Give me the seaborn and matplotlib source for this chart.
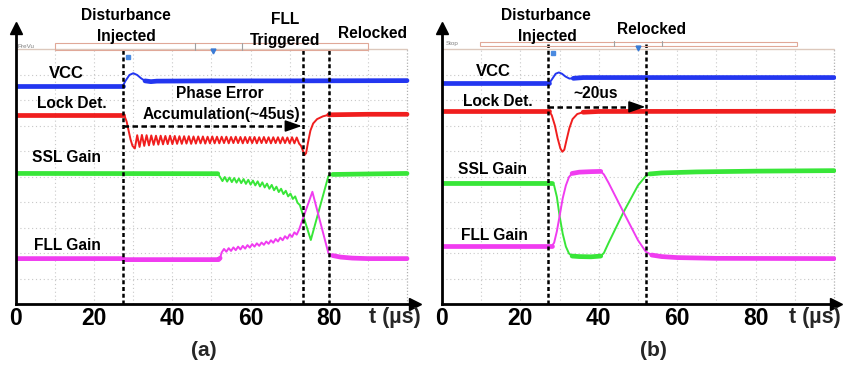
import numpy as np
import pandas as pd
import matplotlib
matplotlib.use("Agg")
import matplotlib.pyplot as plt
from matplotlib.lines import Line2D
from matplotlib.patches import Rectangle
import seaborn as sns

# ---------------- data (time in us, level in scope divisions) ----------------
tick_vals = [0, 20, 40, 60, 80]
tick_labels = ["0", "20", "40", "60", "80"]
trace_names = ["VCC", "Lock Det.", "SSL Gain", "FLL Gain"]

# panel (a)
vcc_a_t = [0, 27.3, 28.0, 29.0, 30.0, 31.0, 32.0, 33.0, 34.5, 36.0, 50.0, 70.0, 100.0]
vcc_a_y = [8.55, 8.55, 8.75, 8.98, 9.05, 8.98, 8.85, 8.75, 8.72, 8.74, 8.75, 8.75, 8.76]

lock_a_t = [0, 27.3, 27.8, 28.3, 28.8, 29.3, 29.8,
            30.4, 31.0, 31.6, 32.2, 32.8, 33.4, 34.0, 34.6, 35.2, 35.8,
            36.4, 37.0, 37.6, 38.2, 38.8, 39.4, 40.0, 40.6, 41.2, 41.8,
            42.4, 43.0, 43.6, 44.2, 44.8, 45.4, 46.0, 46.6, 47.2, 47.8,
            48.4, 49.0, 49.6, 50.2, 50.8, 51.4, 52.0, 52.6, 53.2, 53.8,
            54.4, 55.0, 55.6, 56.2, 56.8, 57.4, 58.0, 58.6, 59.2, 59.8,
            60.4, 61.0, 61.6, 62.2, 62.8, 63.4, 64.0, 64.6, 65.2, 65.8,
            66.4, 67.0, 67.6, 68.2, 68.8, 69.4, 70.0, 70.6, 71.2, 71.8,
            72.4,
            72.9, 73.4, 73.8, 74.2, 74.7, 75.3, 76.0, 77.0, 78.5, 80.0, 90.0, 100.0]
lock_a_y = [7.41, 7.41, 7.36, 7.15, 6.80, 6.45, 6.20,
            6.10, 6.62, 6.16, 6.63, 6.20, 6.62, 6.22, 6.61, 6.24, 6.60,
            6.25, 6.60, 6.26, 6.59, 6.27, 6.60, 6.27, 6.59, 6.28, 6.58,
            6.28, 6.58, 6.29, 6.58, 6.28, 6.57, 6.29, 6.57, 6.30, 6.57,
            6.29, 6.56, 6.30, 6.57, 6.30, 6.56, 6.30, 6.56, 6.31, 6.56,
            6.30, 6.55, 6.31, 6.56, 6.31, 6.55, 6.30, 6.55, 6.31, 6.55,
            6.31, 6.55, 6.30, 6.54, 6.31, 6.55, 6.31, 6.54, 6.30, 6.54,
            6.31, 6.54, 6.30, 6.54, 6.31, 6.53, 6.30, 6.54, 6.30, 6.53,
            6.29,
            6.20, 6.00, 5.84, 5.92, 6.35, 6.80, 7.08, 7.25, 7.36, 7.42, 7.44, 7.44]

ssl_a_t = [0, 51.6,
           52.2, 52.8, 53.4, 54.0, 54.6, 55.2, 55.8, 56.4, 57.0, 57.6,
           58.2, 58.8, 59.4, 60.0, 60.6, 61.2, 61.8, 62.4, 63.0, 63.6,
           64.2, 64.8, 65.4, 66.0, 66.6, 67.2, 67.8, 68.4, 69.0, 69.6,
           70.2, 70.8, 71.4, 72.0, 72.6,
           75.4, 79.9, 81.0, 90.0, 100.0]
ssl_a_y = [5.12, 5.11,
           4.98, 4.82, 4.98, 4.80, 4.96, 4.78, 4.94, 4.76, 4.92, 4.74,
           4.90, 4.71, 4.87, 4.68, 4.84, 4.65, 4.81, 4.61, 4.77, 4.57,
           4.72, 4.52, 4.67, 4.46, 4.60, 4.39, 4.52, 4.31, 4.44, 4.22,
           4.33, 4.12, 4.22, 3.97, 3.88,
           2.51, 5.02, 5.08, 5.10, 5.12]

fll_a_t = [0, 27.0, 28.0, 51.8, 52.2,
           52.6, 53.2, 53.8, 54.4, 55.0, 55.6, 56.2, 56.8, 57.4, 58.0,
           58.6, 59.2, 59.8, 60.4, 61.0, 61.6, 62.2, 62.8, 63.4, 64.0,
           64.6, 65.2, 65.8, 66.4, 67.0, 67.6, 68.2, 68.8, 69.4, 70.0,
           70.6, 71.2, 71.8, 72.4,
           75.8, 79.9, 81.0, 83.0, 86.0, 90.0, 100.0]
fll_a_y = [1.78, 1.78, 1.74, 1.74, 1.80,
           2.02, 2.16, 2.05, 2.19, 2.08, 2.22, 2.11, 2.25, 2.14, 2.28,
           2.17, 2.31, 2.21, 2.35, 2.25, 2.38, 2.28, 2.41, 2.32, 2.45,
           2.36, 2.50, 2.40, 2.55, 2.45, 2.60, 2.50, 2.66, 2.56, 2.73,
           2.63, 2.81, 2.72, 2.92,
           4.40, 1.99, 1.90, 1.84, 1.80, 1.78, 1.78]

# panel (b)
vcc_b_t = [0, 27.3, 28.0, 29.0, 29.8, 30.6, 31.5, 32.5, 33.5, 36.0, 50.0, 70.0, 100.0]
vcc_b_y = [8.65, 8.65, 8.80, 9.03, 9.08, 9.03, 8.92, 8.84, 8.85, 8.88, 8.88, 8.88, 8.88]

lock_b_t = [0, 27.4, 28.0, 28.8, 29.5, 30.2, 30.7, 31.2, 31.8, 32.5, 33.3, 34.5, 36.0, 40.0, 100.0]
lock_b_y = [7.55, 7.55, 7.40, 7.00, 6.50, 6.10, 5.97, 6.05, 6.45, 6.90, 7.25, 7.45, 7.52, 7.55, 7.56]

ssl_b_t = [0, 28.0, 28.6, 29.3, 30.0, 30.8, 31.6, 32.4, 33.2, 35.0, 38.0, 40.5, 41.3, 42.5,
           46.3, 50.0, 52.0, 53.0, 56.0, 65.0, 80.0, 100.0]
ssl_b_y = [4.76, 4.76, 4.65, 4.20, 3.45, 2.75, 2.25, 1.98, 1.88, 1.86, 1.85, 1.88, 2.00, 2.40,
           3.60, 4.65, 5.02, 5.10, 5.14, 5.18, 5.21, 5.23]

fll_b_t = [0, 28.0, 28.6, 29.3, 30.0, 30.8, 31.6, 32.4, 33.2, 35.0, 38.0, 40.5, 41.3, 42.5,
           46.3, 50.0, 52.0, 53.5, 56.0, 60.0, 70.0, 100.0]
fll_b_y = [2.27, 2.27, 2.40, 2.85, 3.45, 4.15, 4.65, 4.98, 5.12, 5.17, 5.19, 5.20, 5.08, 4.75,
           3.60, 2.50, 2.05, 1.92, 1.86, 1.82, 1.79, 1.78]

events_a = [27.4, 73.3, 80.1]
events_b = [27.0, 52.0]
arrow_a = [27.4, 73.1, 6.98]
arrow_b = [27.0, 51.9, 7.73]

# ---------------- styling ----------------
sns.set_style("white")
plt.rcParams['font.family'] = ['Liberation Sans', 'DejaVu Sans']
plt.rcParams['font.weight'] = 'bold'

colors = {"VCC": "#2336f0", "Lock Det.": "#f01e1e", "SSL Gain": "#38e638", "FLL Gain": "#f03cf0"}

W, H = 844, 368
fig = plt.figure(figsize=(W / 100, H / 100), dpi=100)
fig.patch.set_facecolor("white")


def fx(x):
    return x / W


def fy(y):
    return 1 - y / H


PX_DIV = 25.5
AX_Y0 = 304
YTOP = (AX_Y0 - 28) / PX_DIV


def make_axes(x0, ppu, xmax):
    ax = fig.add_axes([fx(x0), fy(AX_Y0), xmax * ppu / W, (AX_Y0 - 28) / H])
    ax.set_xlim(0, xmax)
    ax.set_ylim(0, YTOP)
    ax.set_facecolor("none")
    for s in ["top", "right"]:
        ax.spines[s].set_visible(False)
    for s in ["left", "bottom"]:
        ax.spines[s].set_linewidth(2.0)
        ax.spines[s].set_color("black")
        ax.spines[s].set_zorder(6)
    ax.plot(1, 0, ">k", transform=ax.get_yaxis_transform(), clip_on=False, ms=8, zorder=7)
    ax.plot(0, 1, "^k", transform=ax.get_xaxis_transform(), clip_on=False, ms=8, zorder=7)
    ax.set_xticks(tick_vals)
    ax.set_xticklabels(tick_labels, fontsize=16.5, fontweight="bold")
    ax.tick_params(axis="x", direction="in", length=6.5, width=2, pad=2.5, colors="black")
    ax.set_yticks([])
    ax.set_xlabel("")
    ax.set_ylabel("")
    # scope graticule
    for gx in range(10, 100, 10):
        ax.plot([gx, gx], [0, 10], ls=(0, (1, 2.5)), color="#c8c8c8", lw=0.8, zorder=1)
    ax.plot([100, 100], [0, 10], ls=(0, (1, 1.5)), color="#b0b0b0", lw=0.9, zorder=1)
    for gy in range(1, 10):
        ax.plot([0, 100], [gy, gy], ls=(0, (1, 2.5)), color="#c8c8c8", lw=0.8, zorder=1)
    ax.plot([0, 100], [10, 10], color="#dcc8bc", lw=1.0, zorder=1)
    return ax


def draw_traces(ax, series, thick):
    frames = []
    for name, (t, y) in series.items():
        frames.append(pd.DataFrame({"t": t, "v": y, "trace": name}))
    df = pd.concat(frames, ignore_index=True)
    for name in trace_names:
        d = df[df.trace == name]
        sns.lineplot(data=d, x="t", y="v", ax=ax, color=colors[name], lw=1.4,
                     sort=False, estimator=None, zorder=3, legend=False)
        for (a, b) in thick[name]:
            dd = d[(d.t >= a) & (d.t <= b)]
            sns.lineplot(data=dd, x="t", y="v", ax=ax, color=colors[name], lw=3.4,
                         sort=False, estimator=None, zorder=3, legend=False)
    ax.set_xlabel("")
    ax.set_ylabel("")


def events(ax, ev, top):
    for e in ev:
        ax.plot([e, e], [0, top], color="black", lw=1.8, ls=(0, (1.6, 1.1)), zorder=5)


def dashed_arrow(ax, spec):
    a, b, yv = spec
    ax.plot([a, b - 3.0], [yv, yv], color="black", lw=1.8, ls=(0, (2.2, 1.4)), zorder=5)
    ax.annotate("", xy=(b, yv), xytext=(b - 3.5, yv),
                arrowprops=dict(arrowstyle="-|>,head_length=1.0,head_width=0.35",
                                color="black", lw=1.2, mutation_scale=10,
                                shrinkA=0, shrinkB=0), zorder=6)


# ---------- panel (a) ----------
axa = make_axes(16, 3.91, 102.0)
draw_traces(axa,
            {"VCC": (vcc_a_t, vcc_a_y), "Lock Det.": (lock_a_t, lock_a_y),
             "SSL Gain": (ssl_a_t, ssl_a_y), "FLL Gain": (fll_a_t, fll_a_y)},
            {"VCC": [(0, 27.3), (33.0, 100)], "Lock Det.": [(0, 27.3), (80.0, 100)],
             "SSL Gain": [(0, 51.6), (81.0, 100)], "FLL Gain": [(0, 52.2), (81.0, 100)]})
events(axa, events_a, 10.0)
dashed_arrow(axa, arrow_a)

# ---------- panel (b) ----------
axb = make_axes(442, 3.92, 100.5)
draw_traces(axb,
            {"VCC": (vcc_b_t, vcc_b_y), "Lock Det.": (lock_b_t, lock_b_y),
             "SSL Gain": (ssl_b_t, ssl_b_y), "FLL Gain": (fll_b_t, fll_b_y)},
            {"VCC": [(0, 27.3), (33.5, 100)], "Lock Det.": [(0, 27.4), (36.0, 100)],
             "SSL Gain": [(0, 28.0), (33.2, 40.5), (53.0, 100)],
             "FLL Gain": [(0, 28.0), (33.2, 40.5), (53.5, 100)]})
events(axb, events_b, 10.2)
dashed_arrow(axb, arrow_b)

# ---------- scope header decorations ----------
hdr = "#e0a898"
fig.add_artist(Rectangle((fx(55), fy(49.5)), fx(368) - fx(55), fy(43.5) - fy(49.5),
                         fill=False, ec=hdr, lw=0.8))
fig.add_artist(Rectangle((fx(480), fy(45.5)), fx(797) - fx(480), fy(41.5) - fy(45.5),
                         fill=False, ec=hdr, lw=0.8))
for xx, y0, y1 in [(195, 43, 50), (242, 43, 50), (614, 41, 46), (662, 41, 46)]:
    fig.add_artist(Line2D([fx(xx), fx(xx)], [fy(y0), fy(y1)], color="#a0a0a0", lw=0.8))
for xx, yy in [(213, 51), (638, 47.5)]:
    fig.add_artist(Line2D([fx(xx)], [fy(yy)], marker="v", color="#3a7bd5", ms=3.5, lw=0))
for xx, yy in [(128, 57), (553, 52.5)]:
    fig.add_artist(Line2D([fx(xx)], [fy(yy)], marker="s", color="#4a8ae0", ms=3.5, lw=0))
fig.text(fx(18), fy(47), "PreVu", fontsize=4.5, color="#808080", ha="left", va="center",
         fontweight="normal")
fig.text(fx(446), fy(43.5), "Stop", fontsize=4.5, color="#808080", ha="left", va="center",
         fontweight="normal")

# ---------- labels ----------
labels = [
    (125.5, 15, "Disturbance"), (126, 37, "Injected"),
    (285, 20, "FLL"), (285, 41, "Triggered"), (372.5, 33, "Relocked"),
    (66.5, 73, "VCC"), (71.5, 103, "Lock Det."),
    (220, 94, "Phase Error"), (221, 115, "Accumulation(~45us)"),
    (66, 158, "SSL Gain"), (67, 245, "FLL Gain"),
    (546, 15, "Disturbance"), (547, 37, "Injected"), (652, 29, "Relocked"),
    (493, 71, "VCC"), (498, 102, "Lock Det."), (596, 94, "~20us"),
    (492.5, 169, "SSL Gain"), (494, 236, "FLL Gain"),
]
for x, y, s in labels:
    fs = 12 if s == "VCC" else 11.2
    fig.text(fx(x), fy(y), s, fontsize=fs, fontweight="bold", ha="center", va="center",
             color="black")

for x in [395, 815]:
    fig.text(fx(x), fy(318), "t (µs)", fontsize=15.5, fontweight="bold", ha="center",
             va="center")
fig.text(fx(204), fy(350), "(a)", fontsize=15, fontweight="bold", ha="center", va="center")
fig.text(fx(653.5), fy(350), "(b)", fontsize=15, fontweight="bold", ha="center", va="center")

fig.savefig("out.png", dpi=100, facecolor="white")
